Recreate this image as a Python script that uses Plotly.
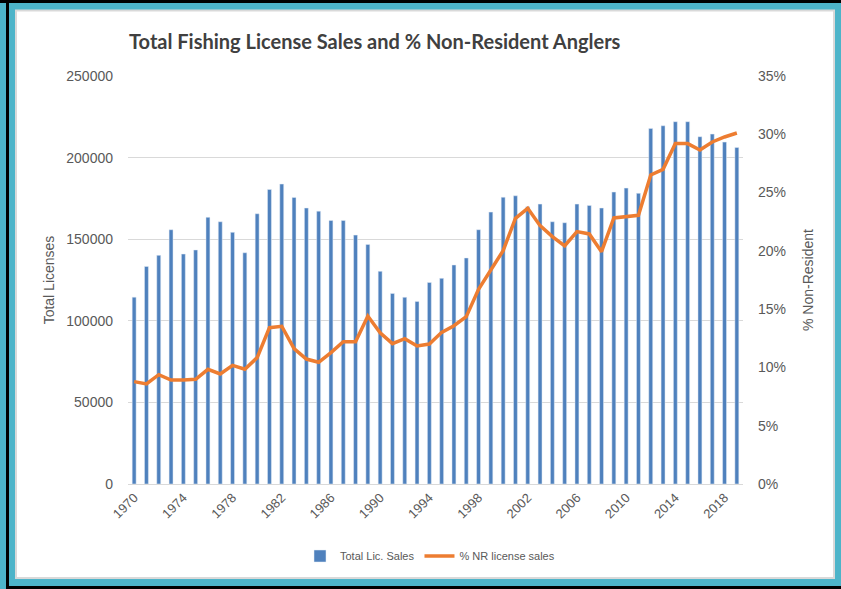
"""Total fishing license sales (bars) with % non-resident anglers (line)."""
import plotly.graph_objects as go

years = list(range(1970, 2020))

total_sales = [
    114500, 133300, 140100, 155800, 140900, 143400, 163400, 160700, 154200, 141700,
    165600, 180500, 183800, 175600, 169100, 167200, 161500, 161500, 152500, 146800,
    130300, 116800, 114400, 111900, 123500, 126000, 134200, 138500, 155800, 166600,
    175700, 176600, 169900, 171500, 160700, 160100, 171500, 170700, 169100, 178900,
    181300, 178100, 217900, 219500, 222000, 222000, 212800, 214400, 209500, 206200,
]

pct_nonresident = [
    8.78, 8.58, 9.38, 8.92, 8.92, 8.98, 9.84, 9.44, 10.18, 9.84,
    10.84, 13.41, 13.53, 11.61, 10.72, 10.44, 11.27, 12.21, 12.21, 14.41,
    12.98, 12.04, 12.47, 11.84, 12.01, 13.01, 13.58, 14.36, 16.70, 18.36,
    20.02, 22.79, 23.65, 22.16, 21.22, 20.42, 21.65, 21.45, 19.93, 22.82,
    22.93, 23.05, 26.51, 26.99, 29.20, 29.20, 28.65, 29.34, 29.77, 30.11,
]

tick_years = list(range(1970, 2019, 4))

_BLUE = "#4f81bd"
_ORANGE = "#ed7d31"
_TEAL = "#4db4c9"
_GRID = "#d9d9d9"
_TEXT = "#595959"
_FONT = "Liberation Sans, Arial, sans-serif"

# plot area in pixels: x 128..743, y 76..484 (841x589 page)
_L, _R, _T, _B = 128, 743, 76, 484


def px(x):
    return (x - _L) / (_R - _L)


def py(y):
    return (_B - y) / (_B - _T)


fig = go.Figure()

fig.add_trace(go.Bar(
    x=years,
    y=total_sales,
    name="Total Lic. Sales",
    marker_color=_BLUE,
    yaxis="y",
))

fig.add_trace(go.Scatter(
    x=years,
    y=[p / 100 for p in pct_nonresident],
    name="% NR license sales",
    mode="lines",
    line=dict(color=_ORANGE, width=3.5),
    yaxis="y2",
))

shapes = [
    # white card with light grey edge
    dict(type="rect", xref="paper", yref="paper",
         x0=px(16), x1=px(834), y0=py(578), y1=py(10.5),
         fillcolor="white", line=dict(color=_GRID, width=2), layer="below"),
    # dark frame lines
    dict(type="line", xref="paper", yref="paper",
         x0=px(0), x1=px(841), y0=py(1.5), y1=py(1.5),
         line=dict(color="black", width=3), layer="below"),
    dict(type="line", xref="paper", yref="paper",
         x0=px(7.5), x1=px(7.5), y0=py(0), y1=py(589),
         line=dict(color="black", width=3), layer="below"),
    dict(type="line", xref="paper", yref="paper",
         x0=px(7.5), x1=px(841), y0=py(587.5), y1=py(587.5),
         line=dict(color="black", width=3), layer="below"),
]

fig.update_layout(
    width=841,
    height=589,
    margin=dict(l=_L, r=841 - _R, t=_T, b=589 - _B, pad=0),
    paper_bgcolor=_TEAL,
    plot_bgcolor="rgba(0,0,0,0)",
    font=dict(family=_FONT, color=_TEXT, size=14),
    bargap=0.68,
    showlegend=True,
    legend=dict(
        orientation="h",
        x=px(430), xanchor="center",
        y=py(556), yanchor="middle",
        font=dict(size=11, color=_TEXT, family=_FONT),
        bgcolor="rgba(0,0,0,0)",
        itemwidth=30,
    ),
    shapes=shapes,
    annotations=[dict(
        text="<b>Total Fishing License Sales and % Non-Resident Anglers</b>",
        xref="paper", yref="paper",
        x=px(375), y=py(41), xanchor="center", yanchor="middle",
        showarrow=False,
        font=dict(size=20, color="#404040", family="Lato, " + _FONT),
    )],
    xaxis=dict(
        range=[1969.5, 2019.5],
        tickvals=tick_years,
        tickangle=-45,
        showgrid=False,
        showline=True,
        linecolor=_GRID,
        ticks="",
        tickfont=dict(size=13, color=_TEXT),
    ),
    yaxis=dict(
        range=[0, 250000],
        dtick=50000,
        tickformat="d",
        gridcolor=_GRID,
        zeroline=False,
        ticks="",
        ticklabelstandoff=14,
        title=dict(text="Total Licenses", font=dict(size=14, color=_TEXT), standoff=8),
        tickfont=dict(size=14, color=_TEXT),
    ),
    yaxis2=dict(
        range=[0, 0.35],
        dtick=0.05,
        tickformat=".0%",
        overlaying="y",
        side="right",
        showgrid=False,
        zeroline=False,
        ticks="",
        ticklabelstandoff=14,
        title=dict(text="% Non-Resident", font=dict(size=14, color=_TEXT), standoff=18),
        tickfont=dict(size=14, color=_TEXT),
    ),
)

# drop the default page margin so the figure fills the window
fig.write_html(
    "out.html",
    config={"displayModeBar": False},
    post_script="document.body.style.margin='0';document.body.style.overflow='hidden';",
)
